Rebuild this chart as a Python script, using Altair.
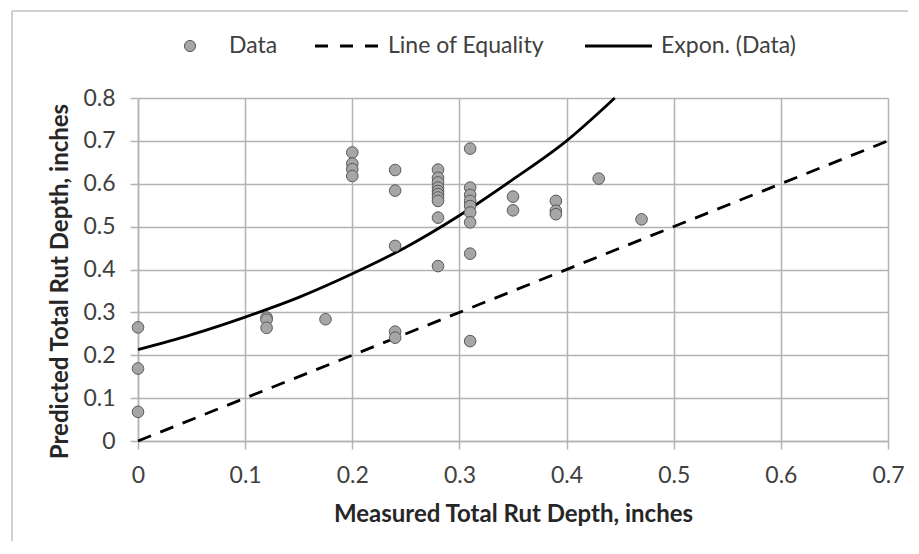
import altair as alt
import pandas as pd

# Scatter data
measured = [0, 0, 0,
            0.12, 0.12, 0.12,
            0.175,
            0.2, 0.2, 0.2, 0.2,
            0.24, 0.24, 0.24, 0.24, 0.24,
            0.28, 0.28, 0.28, 0.28, 0.28, 0.28, 0.28, 0.28, 0.28, 0.28,
            0.31, 0.31, 0.31, 0.31, 0.31, 0.31, 0.31, 0.31, 0.31,
            0.35, 0.35,
            0.39, 0.39, 0.39,
            0.43,
            0.47]
predicted = [0.265, 0.169, 0.068,
             0.288, 0.283, 0.264,
             0.284,
             0.673, 0.647, 0.634, 0.618,
             0.632, 0.584, 0.455, 0.255, 0.241,
             0.633, 0.614, 0.603, 0.591, 0.583, 0.576, 0.568, 0.560, 0.521, 0.408,
             0.682, 0.591, 0.574, 0.560, 0.548, 0.533, 0.510, 0.437, 0.233,
             0.570, 0.538,
             0.560, 0.537, 0.529,
             0.612,
             0.517]

# Line of equality
equality_x = [0, 0.7]
equality_y = [0, 0.7]

# Exponential trendline
trend_x = [0, 0.05, 0.1, 0.15, 0.2, 0.25, 0.3, 0.35, 0.4, 0.445]
trend_y = [0.213, 0.248, 0.289, 0.335, 0.390, 0.452, 0.526, 0.610, 0.700, 0.800]

x_ticks = [0, 0.1, 0.2, 0.3, 0.4, 0.5, 0.6, 0.7]
y_ticks = [0, 0.1, 0.2, 0.3, 0.4, 0.5, 0.6, 0.7, 0.8]
legend_labels = ["Data", "Line of Equality", "Expon. (Data)"]

FONT = "Lato"
GRID = "#b3b3b3"
TEXT = "#404040"

pts = pd.DataFrame({"x": measured, "y": predicted})
eq = pd.DataFrame({"x": equality_x, "y": equality_y})
tr = pd.DataFrame({"x": trend_x, "y": trend_y})

xscale = alt.Scale(domain=[0, 0.7], nice=False, zero=False)
yscale = alt.Scale(domain=[0, 0.8], nice=False, zero=False)

xaxis = alt.Axis(values=x_ticks, format="~g", title="Measured Total Rut Depth, inches",
                 grid=True, gridColor=GRID, gridWidth=1.5, domainColor=GRID, domainWidth=1.5,
                 tickColor=GRID, tickWidth=1.5, tickSize=8, labelPadding=15, titlePadding=15,
                 labelFlush=False)
yaxis = alt.Axis(values=y_ticks, format="~g", title="Predicted Total Rut Depth, inches",
                 grid=True, gridColor=GRID, gridWidth=1.5, domainColor=GRID, domainWidth=1.5,
                 tickColor=GRID, tickWidth=1.5, tickSize=8, labelPadding=15, titlePadding=10,
                 labelFlush=False, titleY=183)

equality = alt.Chart(eq).mark_line(color="black", strokeWidth=2.8, strokeDash=[14, 10]).encode(
    x=alt.X("x:Q", scale=xscale, axis=xaxis),
    y=alt.Y("y:Q", scale=yscale, axis=yaxis),
)
trend = alt.Chart(tr).mark_line(color="black", strokeWidth=2.8, interpolate="monotone").encode(
    x="x:Q", y="y:Q"
)
points = alt.Chart(pts).mark_point(filled=True, fill="#a6a6a6", stroke="#595959", strokeWidth=1,
                                   size=135, opacity=1, shape="circle").encode(
    x="x:Q", y="y:Q"
)

# Legend (above plot)
LY = -52
leg_df = pd.DataFrame({"label": legend_labels})
leg_marker = alt.Chart(leg_df).transform_filter(alt.datum.label == legend_labels[0]).mark_point(
    filled=True, fill="#a6a6a6", stroke="#595959", strokeWidth=1, size=125, opacity=1, shape="circle"
).encode(x=alt.value(52), y=alt.value(LY))
leg_dash = alt.Chart(leg_df).transform_filter(alt.datum.label == legend_labels[1]).mark_rule(
    color="black", strokeWidth=2.8, strokeDash=[13, 12]
).encode(x=alt.value(177), x2=alt.value(240), y=alt.value(LY))
leg_solid = alt.Chart(leg_df).transform_filter(alt.datum.label == legend_labels[2]).mark_rule(
    color="black", strokeWidth=2.8
).encode(x=alt.value(447), x2=alt.value(514), y=alt.value(LY))
leg_txt = []
for lab, xpos in zip(legend_labels, [91, 250, 523]):
    leg_txt.append(
        alt.Chart(leg_df).transform_filter(alt.datum.label == lab).mark_text(
            align="left", baseline="middle", font=FONT, fontSize=23, color=TEXT
        ).encode(x=alt.value(xpos), y=alt.value(LY), text="label:N")
    )

# Outer chart frame (top and left edges visible)
frame_top = alt.Chart(leg_df).transform_filter(alt.datum.label == legend_labels[0]).mark_rule(
    color="#d0d0d0", strokeWidth=2).encode(x=alt.value(-126), x2=alt.value(800), y=alt.value(-87))
frame_left = alt.Chart(leg_df).transform_filter(alt.datum.label == legend_labels[0]).mark_rule(
    color="#d0d0d0", strokeWidth=2).encode(x=alt.value(-126), y=alt.value(-87), y2=alt.value(470))

chart = alt.layer(
    equality, trend, points, leg_marker, leg_dash, leg_solid, *leg_txt, frame_top, frame_left
).properties(
    width=750, height=343,
    autosize=alt.AutoSizeParams(type="none"),
    padding={"left": 130, "top": 90, "right": 20, "bottom": 100},
).configure_view(stroke=None).configure_axis(
    labelFont=FONT, labelFontSize=23, labelColor=TEXT,
    titleFont=FONT, titleFontSize=24, titleFontWeight="bold", titleColor="#262626",
)

chart.save("out.html", embed_options={"renderer": "svg", "actions": False})
